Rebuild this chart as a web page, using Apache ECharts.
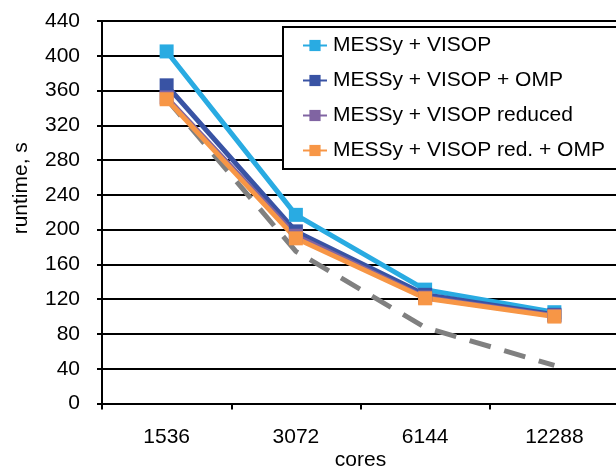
<!DOCTYPE html>
<html>
<head>
<meta charset="utf-8">
<script src="https://cdn.jsdelivr.net/npm/echarts@6/dist/echarts.min.js"></script>
<style>
  html, body { margin: 0; padding: 0; background: #fff; }
  #chart-container { width: 616px; height: 467px; }
</style>
</head>
<body>
<div id="chart-container"></div>
<script>
var cores = ['1536', '3072', '6144', '12288'];
var visop = [405, 217, 131, 105];
var visopOmp = [366, 198, 125, 102];
var visopReduced = [352, 193, 122, 101];
var visopRedOmp = [350, 190, 121, 100];
var ideal = [350, 175, 87.5, 43.75];

var FONT = '"Liberation Sans", Arial, sans-serif';

var dom = document.getElementById('chart-container');
var myChart = echarts.init(dom, null, { renderer: 'canvas' });

function line(name, data, color) {
  return {
    name: name,
    type: 'line',
    data: data,
    symbol: 'rect',
    symbolSize: 14,
    itemStyle: { color: color },
    lineStyle: { color: color, width: 5 },
    emphasis: { disabled: true }
  };
}

var option = {
  animation: false,
  textStyle: { fontFamily: FONT },
  grid: { left: 102, right: -3, top: 21, bottom: 63.5, containLabel: false, outerBoundsMode: 'none' },
  legend: {
    orient: 'vertical',
    left: 283,
    top: 27,
    padding: [8, 60, 8, 19],
    itemGap: 14,
    itemWidth: 24,
    itemHeight: 14,
    backgroundColor: '#fff',
    borderColor: '#000',
    borderWidth: 2,
    borderRadius: 0,
    textStyle: { fontSize: 21, color: '#000', fontFamily: FONT, padding: [0, 0, 0, 1] },
    data: ['MESSy + VISOP', 'MESSy + VISOP + OMP', 'MESSy + VISOP reduced', 'MESSy + VISOP red. + OMP']
  },
  xAxis: {
    type: 'category',
    data: cores,
    boundaryGap: true,
    name: 'cores',
    nameLocation: 'middle',
    nameGap: 46,
    nameMoveOverlap: false,
    nameTextStyle: { fontSize: 21, color: '#000', fontFamily: FONT },
    axisLine: { lineStyle: { color: '#000', width: 2 } },
    axisTick: { show: true, inside: false, length: 6, lineStyle: { color: '#000', width: 2 } },
    axisLabel: { fontSize: 21, color: '#000', margin: 23, fontFamily: FONT },
    splitLine: { show: false }
  },
  yAxis: {
    type: 'value',
    min: 0,
    max: 440,
    interval: 40,
    name: 'runtime, s',
    nameLocation: 'middle',
    nameRotate: 90,
    nameGap: 70,
    nameMoveOverlap: false,
    nameTextStyle: { fontSize: 21, color: '#000', fontFamily: FONT, padding: [0, 0, 0, 48] },
    axisLine: { show: true, lineStyle: { color: '#000', width: 2 } },
    axisTick: { show: true, inside: false, length: 5, lineStyle: { color: '#000', width: 2 } },
    axisLabel: { fontSize: 21, color: '#000', margin: 22, fontFamily: FONT },
    splitLine: { show: true, lineStyle: { color: '#000', width: 2 } }
  },
  series: [
    {
      name: 'ideal',
      type: 'line',
      data: ideal,
      symbol: 'none',
      lineStyle: { color: '#808080', width: 5, type: [22, 14] },
      emphasis: { disabled: true }
    },
    line('MESSy + VISOP', visop, '#29ABE2'),
    line('MESSy + VISOP + OMP', visopOmp, '#3953A4'),
    line('MESSy + VISOP reduced', visopReduced, '#8064A2'),
    line('MESSy + VISOP red. + OMP', visopRedOmp, '#F79646')
  ]
};

myChart.setOption(option);
window.addEventListener('resize', myChart.resize);
</script>
</body>
</html>
